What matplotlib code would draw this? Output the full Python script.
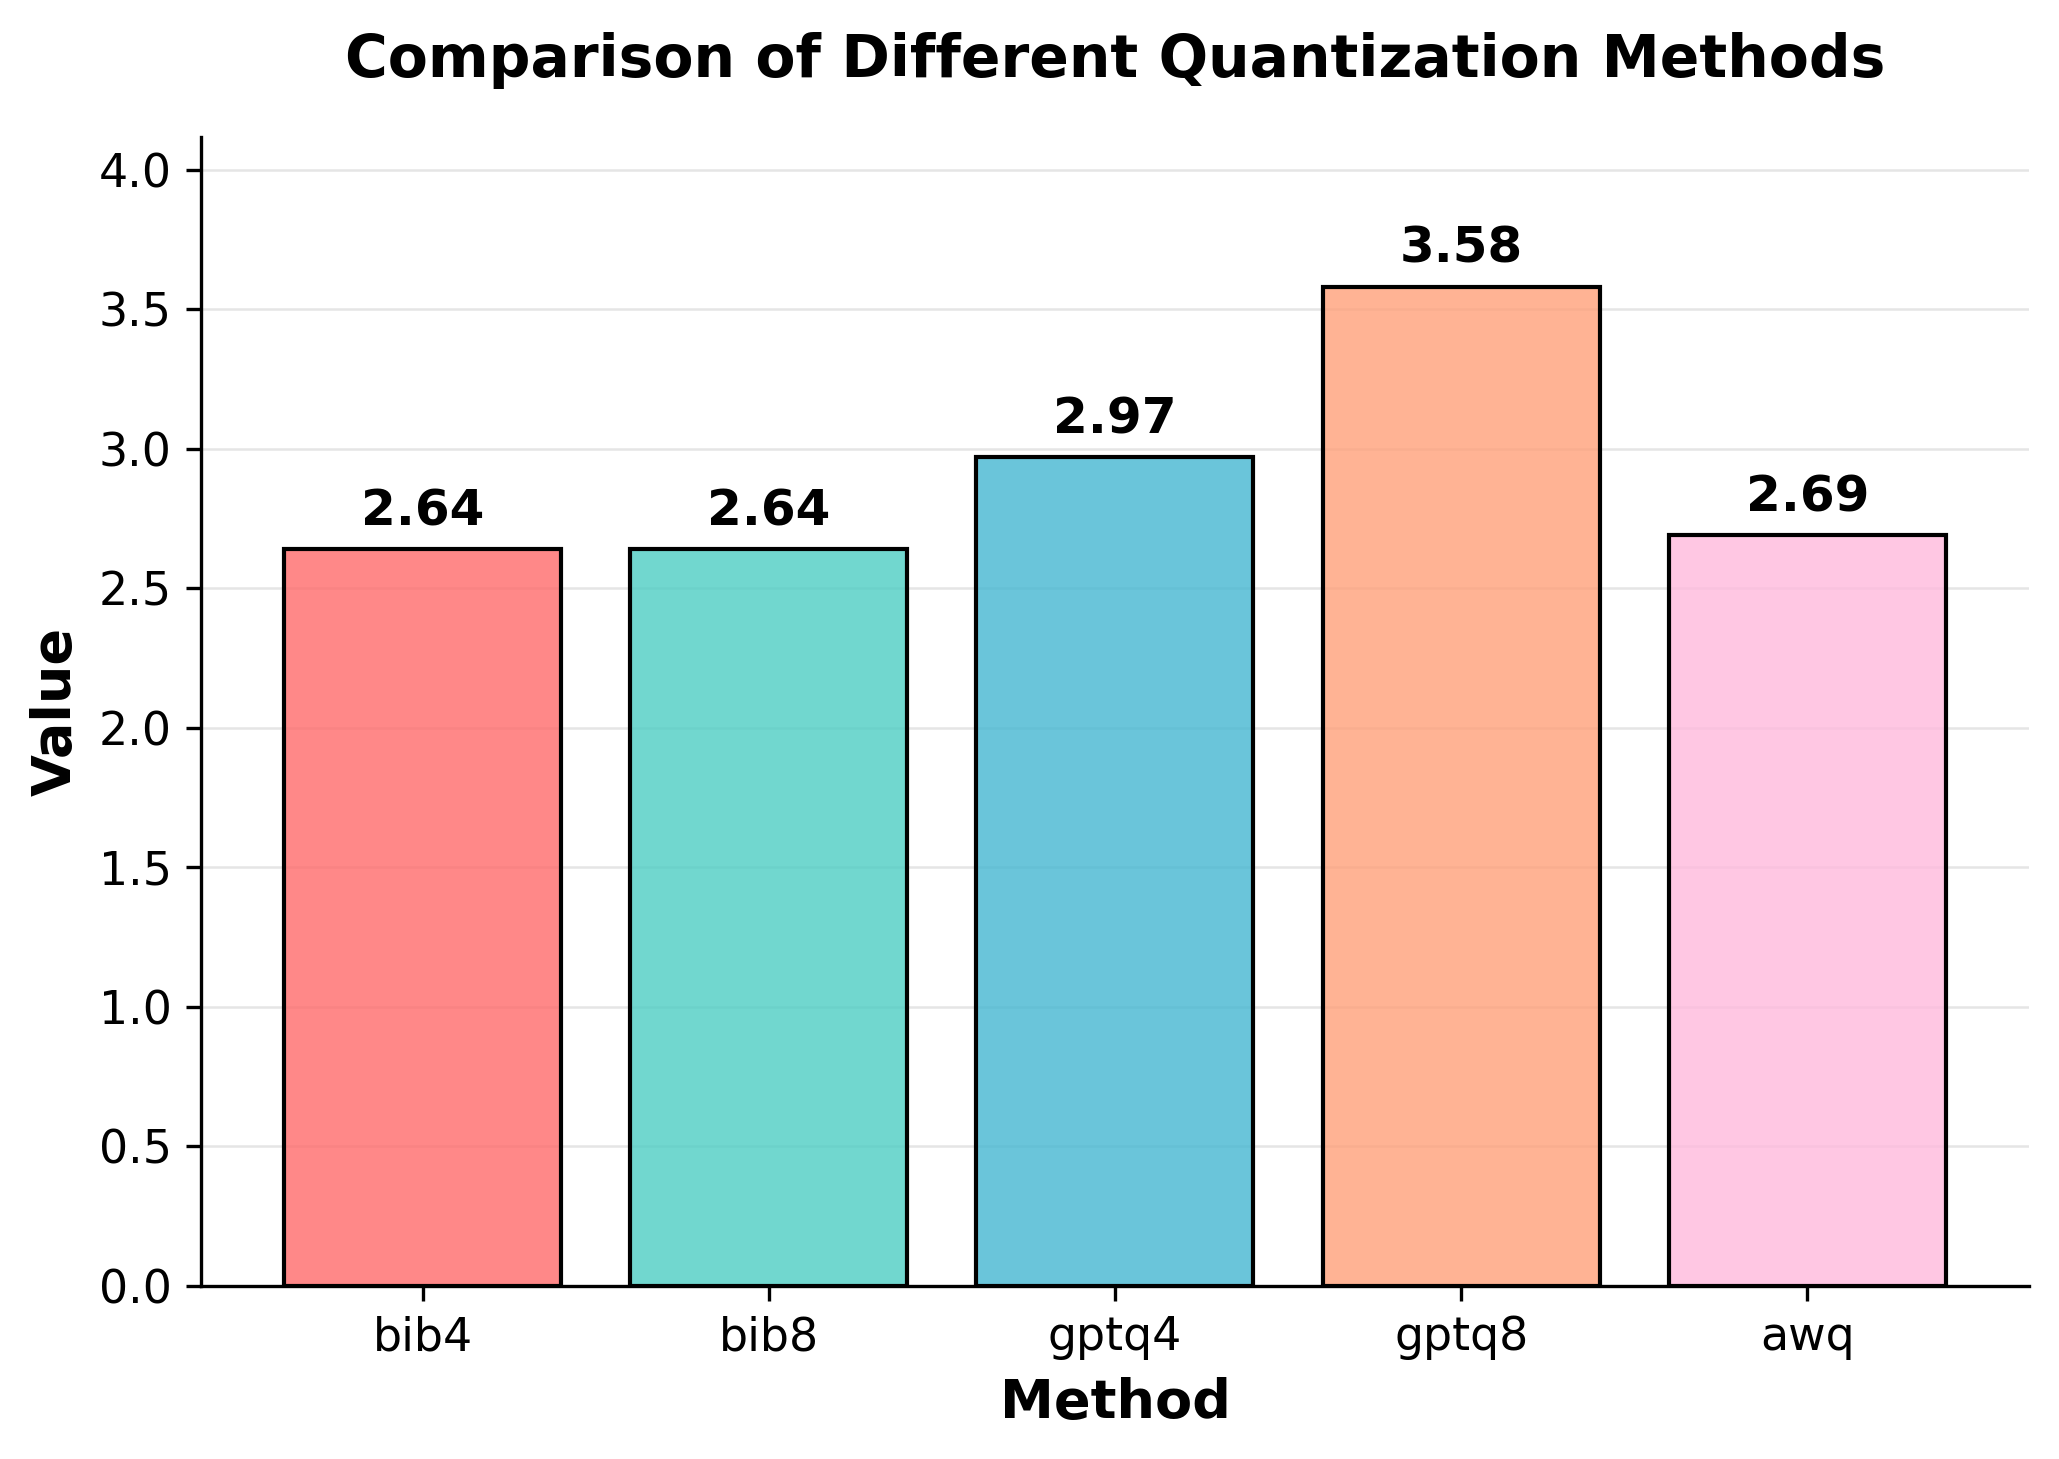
import matplotlib
matplotlib.use("Agg")
import matplotlib.pyplot as plt
from matplotlib.colors import to_rgba

methods = ["bib4", "bib8", "gptq4", "gptq8", "awq"]
values = [2.64, 2.64, 2.97, 3.58, 2.69]
colors = ["#FF6B6B", "#4ECDC4", "#45B7D1", "#FFA07A", "#FFBADD"]

fig = plt.figure(figsize=(2059 / 300, 1459 / 300), dpi=300)
ax = fig.add_axes([0.0976, 0.1186, 0.8878, 0.7875])

x = list(range(len(methods)))
face = [to_rgba(c, 0.8) for c in colors]
bars = ax.bar(x, values, width=0.8, color=face,
              edgecolor="black", linewidth=1.0, zorder=3)
for xi, v in zip(x, values):
    ax.text(xi, v + 0.05, f"{v:.2f}", ha="center", va="bottom",
            fontsize=12, fontweight="bold", zorder=4)

ax.set_xticks(x)
ax.set_xticklabels(methods)
ax.tick_params(labelsize=11)
ax.set_ylim(0, max(values) * 1.15)
ax.set_xlabel("Method", fontsize=13, fontweight="bold")
ax.set_ylabel("Value", fontsize=13, fontweight="bold")
ax.set_title("Comparison of Different Quantization Methods",
             fontsize=14, fontweight="bold", pad=14.5)
ax.yaxis.grid(True, color="#cccccc", alpha=0.5, linewidth=0.6, zorder=0)
ax.set_axisbelow(True)
ax.spines["top"].set_visible(False)
ax.spines["right"].set_visible(False)

fig.savefig("out.png", dpi=300)
